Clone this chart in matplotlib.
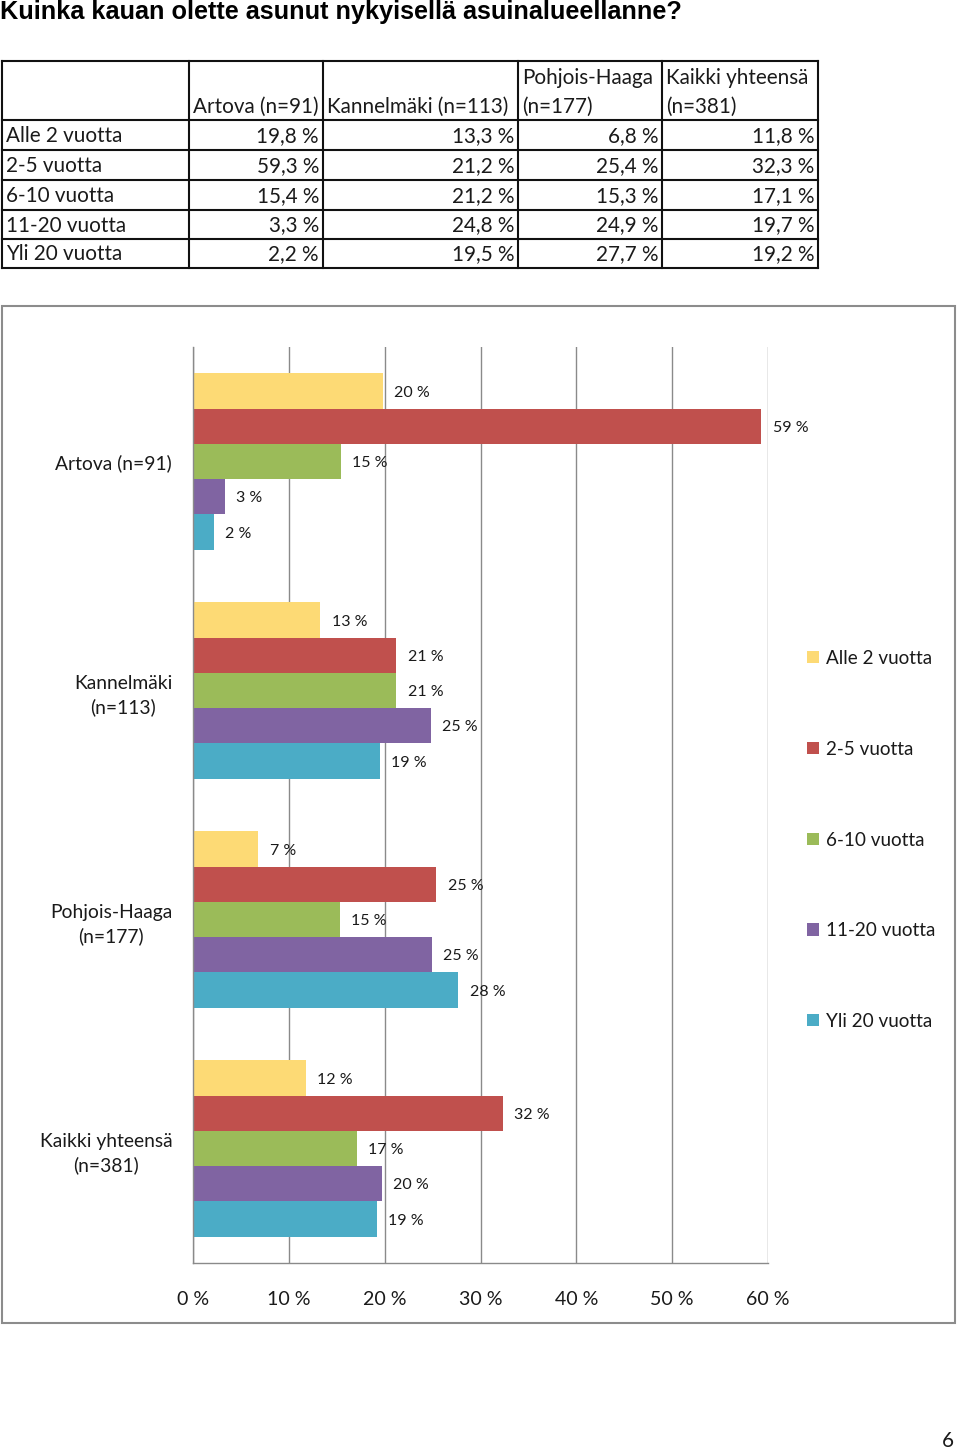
import matplotlib
matplotlib.use('Agg')
import numpy as np
import matplotlib.pyplot as plt
from matplotlib import font_manager
from matplotlib.font_manager import FontProperties
from matplotlib.textpath import TextPath
from matplotlib.patches import Rectangle, Patch

# ---------------- data ----------------
title = "Kuinka kauan olette asunut nykyisellä asuinalueellanne?"
group_header = ["Artova (n=91)", "Kannelmäki (n=113)", "Pohjois-Haaga\n(n=177)", "Kaikki yhteensä\n(n=381)"]
group_labels = ["Artova (n=91)", "Kannelmäki\n(n=113)", "Pohjois-Haaga\n(n=177)", "Kaikki yhteensä\n(n=381)"]
durations = ["Alle 2 vuotta", "2-5 vuotta", "6-10 vuotta", "11-20 vuotta", "Yli 20 vuotta"]
alle_2 = [19.8, 13.3, 6.8, 11.8]
v_2_5 = [59.3, 21.2, 25.4, 32.3]
v_6_10 = [15.4, 21.2, 15.3, 17.1]
v_11_20 = [3.3, 24.8, 24.9, 19.7]
yli_20 = [2.2, 19.47, 27.7, 19.2]
series = [alle_2, v_2_5, v_6_10, v_11_20, yli_20]
colors = ["#FDDA75", "#C0504D", "#9BBB59", "#8064A2", "#4BACC6"]
xticks = [0, 10, 20, 30, 40, 50, 60]
page_number = "6"

# ---------------- setup ----------------
W, H, DPI = 960, 1451, 100


def has_font(name):
    try:
        font_manager.findfont(FontProperties(family=name), fallback_to_default=False)
        return True
    except Exception:
        return False


BODY = "Lato" if has_font("Lato") else "DejaVu Sans"
TFONT = "Liberation Sans Narrow" if has_font("Liberation Sans Narrow") else "Liberation Sans"


def fit(text, px, family, weight="normal"):
    fp = FontProperties(family=family, weight=weight, size=100)
    w = TextPath((0, 0), text, prop=fp).get_extents().width
    return px / (w / 100.0 * DPI / 72.0)


TXT = "#1a1a1a"
GRID = "#8a8a8a"

fs_table = fit("Alle 2 vuotta", 115, BODY)
fs_cat = fit("Artova (n=91)", 116, BODY)
fs_leg = fit("Alle 2 vuotta", 105, BODY)
fs_lab = fit("20 %", 34, BODY)
fs_tick = fit("10 %", 41, BODY)
fs_title = fit(title, 680, TFONT, "bold")

fig = plt.figure(figsize=(W / DPI, H / DPI), dpi=DPI)
fig.patch.set_facecolor("white")

# overlay in pixel coordinates (table, frame, title)
ov = fig.add_axes([0, 0, 1, 1])
ov.set_xlim(0, W)
ov.set_ylim(H, 0)
ov.axis("off")

ov.text(0, 19, title, fontsize=fs_title, fontweight="bold", family=TFONT,
        ha="left", va="baseline", color="black")

# table
col_x = [2, 189, 323, 518, 662, 818]
row_y = [61, 120, 150, 180, 210, 239, 268]
for x in col_x:
    ov.plot([x, x], [row_y[0], row_y[-1]], color="#111111", lw=1.5, solid_capstyle="projecting")
for y in row_y:
    ov.plot([col_x[0], col_x[-1]], [y, y], color="#111111", lw=1.5, solid_capstyle="projecting")

for c, hdr in enumerate(group_header):
    lines = hdr.split("\n")
    if len(lines) == 1:
        lines = ["", lines[0]]
    ov.text(col_x[c + 1] + 4, 78, lines[0], fontsize=fs_table, family=BODY, ha="left", va="center", color=TXT)
    ov.text(col_x[c + 1] + 4, 107, lines[1], fontsize=fs_table, family=BODY, ha="left", va="center", color=TXT)

for r, name in enumerate(durations):
    yc = (row_y[r + 1] + row_y[r + 2]) / 2 + 1
    ov.text(col_x[0] + 4, yc, name, fontsize=fs_table, family=BODY, ha="left", va="center", color=TXT)
    for c in range(4):
        v = series[r][c]
        s = f"{v:.1f}".replace(".", ",") + " %"
        ov.text(col_x[c + 2] - 4, yc, s, fontsize=fs_table, family=BODY, ha="right", va="center", color=TXT)

# chart frame
ov.add_patch(Rectangle((2, 306), 953, 1017, fill=False, edgecolor="#8c8c8c", lw=1.5))

ov.text(954, 1441, page_number, fontsize=fs_tick * 1.05, family=BODY, ha="right", va="center", color=TXT)

# ---------------- chart ----------------
ax_l, ax_r, ax_t, ax_b = 193, 768, 347, 1263
ax = fig.add_axes([ax_l / W, 1 - ax_b / H, (ax_r - ax_l) / W, (ax_b - ax_t) / H])
ax.patch.set_alpha(0)

ng = len(group_labels)
ns = len(series)
bh = 0.77 / ns
base = np.arange(ng)
for j, vals in enumerate(series):
    ys = base - 0.385 + bh * (j + 0.5)
    ax.barh(ys, vals, height=bh, color=colors[j], edgecolor="none", label=durations[j], zorder=2)
    for y, v in zip(ys, vals):
        ax.annotate(f"{v:.0f} %", xy=(v, y), xytext=(8.2, -1.2), textcoords="offset points",
                    ha="left", va="center", fontsize=fs_lab, family=BODY, color=TXT, zorder=3)

ax.set_xlim(0, 60)
ax.set_ylim(ng - 0.5, -0.5)
ax.set_xticks(xticks)
ax.set_xticklabels([f"{t} %" for t in xticks], fontsize=fs_tick, family=BODY, color=TXT)
ax.set_yticks(base)
ax.set_yticklabels(group_labels, fontsize=fs_cat, family=BODY, color=TXT)
for t in ax.get_yticklabels():
    t.set_multialignment("center")
    t.set_linespacing(1.45)
ax.tick_params(axis="x", length=0, pad=20)
ax.tick_params(axis="y", length=0, pad=15)
ax.xaxis.grid(True, color=GRID, lw=1.0, zorder=0)
ax.set_axisbelow(True)
for s in ["top", "right"]:
    ax.spines[s].set_visible(False)
for s in ["left", "bottom"]:
    ax.spines[s].set_color(GRID)
    ax.spines[s].set_linewidth(1.0)

handles = [Patch(facecolor=c, edgecolor="none") for c in colors]
fs_leg_px = fs_leg * DPI / 72
leg = fig.legend(handles, durations, loc="center left",
                 bbox_to_anchor=(807 / W, 1 - 840 / H), frameon=False,
                 prop=FontProperties(family=BODY, size=fs_leg),
                 handlelength=11.5 / fs_leg_px, handleheight=11.5 / fs_leg_px,
                 handletextpad=7 / fs_leg_px, borderpad=0, borderaxespad=0,
                 labelspacing=3.9)
for t in leg.get_texts():
    t.set_color(TXT)

fig.savefig("out.png", dpi=DPI, facecolor="white")
